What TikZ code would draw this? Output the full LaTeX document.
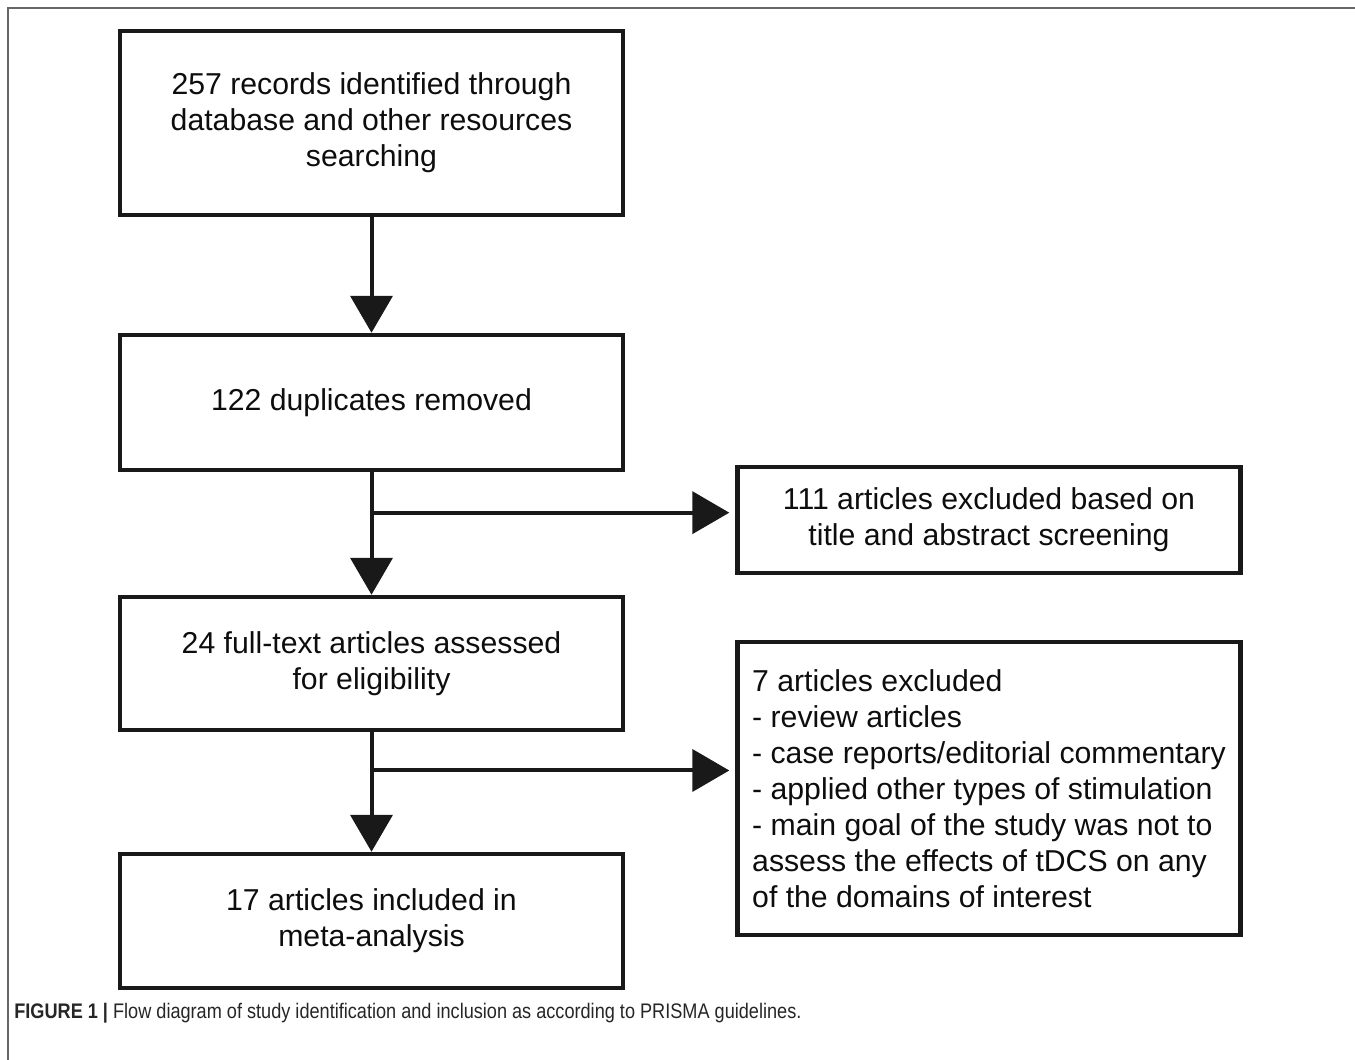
\documentclass[tikz,border=0pt]{standalone}
\usepackage{fontspec}
\setmainfont{Liberation Sans}
\newfontfamily\capfont[FakeStretch=0.86]{Liberation Sans}
\usetikzlibrary{arrows.meta,calc}

\begin{document}
\begin{tikzpicture}[x=0.02cm, y=-0.02cm,
    box/.style={draw=black!90, line width=0.09cm, minimum width=10.06cm, align=center, text=black!95, font=\fontsize{17.2}{20.5}\selectfont},
    arr/.style={line width=0.08cm, draw=black!90, -{Triangle[width=0.84cm,length=0.74cm]}}]
        \useasboundingbox (0,0) rectangle (1355,1060);
        \draw[gray!80!black, line width=0.04cm] (8,1060) -- (8,8) -- (1355,8);
        \node[box, minimum height=3.68cm] (rec) at (371.5, 123) {257 records identified through\\database and other resources\\searching};
        \node[box, minimum height=2.7cm] (dup) at (371.5, 402.5) {122 duplicates removed};
        \node[box, minimum height=2.66cm] (full) at (371.5, 663.5) {24 full-text articles assessed\\for eligibility};
        \node[box, minimum height=2.68cm] (incl) at (371.5, 921) {17 articles included in\\meta-analysis};
        \node[box, minimum height=2.12cm] (excl1) at (989, 520) {111 articles excluded based on\\title and abstract screening};
        \node[box, minimum height=5.86cm, align=left] (excl2) at (989, 788.5) {7 articles excluded\\- review articles\\- case reports/editorial commentary\\- applied other types of stimulation\\- main goal of the study was not to\\assess the effects of tDCS on any\\of the domains of interest};
        \coordinate (j1) at ($(dup.south)!0.33!(full.north)$);
        \coordinate (j2) at ($(full.south)!0.32!(incl.north)$);
        \draw[arr] (rec) to (dup);
        \draw[arr] (dup) to (full);
        \draw[arr] (full) to (incl);
        \draw[arr, shorten >=0.12cm] (j1) to (j1 -| excl1.west);
        \draw[arr, shorten >=0.12cm] (j2) to (j2 -| excl2.west);
        \node[anchor=west, inner sep=0pt, text=black!85] (cap) at (14, 1013) {\capfont\fontsize{12}{14}\selectfont\textbf{FIGURE 1 |} Flow diagram of study identification and inclusion as according to PRISMA guidelines.};
    \end{tikzpicture}
\end{document}
